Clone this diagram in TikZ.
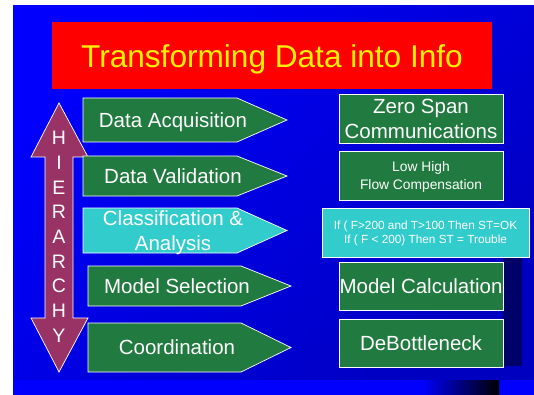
\documentclass[tikz,border=0pt]{standalone}
\usepackage{fontspec}
\setmainfont{Liberation Sans}
\usepackage{tikz}

\definecolor{panelblue}{RGB}{0,0,252}
\definecolor{paneldark}{RGB}{0,0,192}
\definecolor{shadownavy}{RGB}{0,0,105}
\definecolor{stagegreen}{RGB}{33,122,64}
\definecolor{stagecyan}{RGB}{51,204,204}
\definecolor{hiermaroon}{RGB}{153,51,102}

\begin{document}
\begin{tikzpicture}[
    x = 1pt, y = -1pt,
    stage/.style = {draw = white, line width = 0.7pt,
      fill = stagegreen},
    stagetext/.style = {text = white, align = center,
      text depth = 0pt,
      font = \fontsize{20.5}{25}\selectfont},
    result/.style = {draw = white, line width = 0.7pt,
      fill = stagegreen, text = white, align = center,
      inner sep = 0pt, text depth = 0pt,
      minimum width = 164pt, minimum height = 49pt,
      font = \fontsize{20.5}{25}\selectfont},
    hierarchy/.style = {draw = white, line width = 0.7pt,
      fill = hiermaroon},
    ]

    \useasboundingbox (0, 0) rectangle (534, 395);
    \fill [white] (0, 0) rectangle (534, 395);

    \shade [top color = panelblue, bottom color = paneldark,
      shading angle = 45] (13, 6) rectangle (534, 395);
    \fill [shadownavy] (503, 258) rectangle (522, 366);
    \fill [panelblue] (13, 380) rectangle (534, 395);
    \shade [left color = panelblue, right color = black]
    (422, 380) rectangle (499, 395);

    \node at (272, 56)
    [fill = red, text = yellow, text depth = 0pt,
      minimum width = 440pt, minimum height = 67pt,
      font = \fontsize{31.6}{36}\selectfont,
      name = title] {Transforming Data into Info};

    \draw [hierarchy] (59, 103) -- (88, 157) -- (73, 157)
    -- (73, 318) -- (88, 318) -- (59, 372) -- (31, 318)
    -- (45, 318) -- (45, 157) -- (31, 157) -- cycle;
    \node at (59, 236.8)
    [text = white, align = center, text depth = 0pt,
      font = \fontsize{19.5}{24.7}\selectfont,
      name = hier] {H\\I\\E\\R\\A\\R\\C\\H\\Y};

    \draw [stage] (83, 98) -- (237, 98) -- (287, 120)
    -- (237, 142) -- (83, 142) -- cycle;
    \node at (173, 120)
    [stagetext, name = acq] {Data Acquisition};

    \draw [stage] (83, 156) -- (237, 156) -- (287, 176)
    -- (237, 196) -- (83, 196) -- cycle;
    \node at (173, 176)
    [stagetext, name = valid] {Data Validation};

    \draw [stage, fill = stagecyan] (83, 208) -- (237, 208)
    -- (287, 230.5) -- (237, 253) -- (83, 253) -- cycle;
    \node at (173, 230.5)
    [stagetext, name = classify] {Classification \&\\Analysis};

    \draw [stage] (88, 266) -- (241, 266) -- (291, 286)
    -- (241, 306) -- (88, 306) -- cycle;
    \node at (177, 286)
    [stagetext, name = select] {Model Selection};

    \draw [stage] (88, 323) -- (241, 323) -- (291, 347.5)
    -- (241, 372) -- (88, 372) -- cycle;
    \node at (177, 347.5)
    [stagetext, name = coord] {Coordination};

    \node at (421, 118.5)
    [result, name = zero] {Zero Span\\Communications};
    \node at (421, 175.5)
    [result, font = \fontsize{13.8}{18}\selectfont,
      name = flow] {Low High\\Flow Compensation};
    \node at (425.5, 232.5)
    [result, fill = stagecyan, minimum width = 207pt,
      font = \fontsize{11.8}{14}\selectfont,
      name = rules] {If ( F>200 and T>100 Then ST=OK\\
      If ( F < 200) Then ST = Trouble};
    \node at (421, 286)
    [result, minimum height = 48pt,
      name = calc] {Model Calculation};
    \node at (421, 343)
    [result, minimum height = 48pt,
      name = debottle] {DeBottleneck};

  \end{tikzpicture}
\end{document}
